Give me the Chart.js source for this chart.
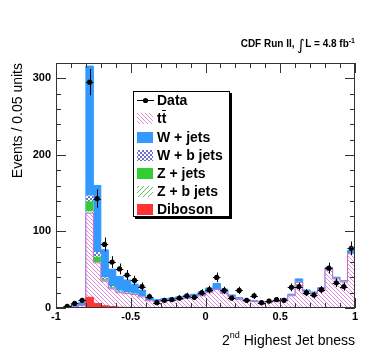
<!DOCTYPE html>
<html>
<head>
<meta charset="utf-8">
<script src="https://cdn.jsdelivr.net/npm/chart.js@4.4.0/dist/chart.umd.min.js"></script>
<style>
  html, body { margin: 0; padding: 0; background: #fff; }
  #wrap { width: 374px; height: 362px; }
</style>
</head>
<body>
<div id="wrap"><canvas id="bness"></canvas></div>
<script>
// bin edges of the 2nd highest jet bness histogram (0.05 wide)
var binEdges = [-1, -0.95, -0.9, -0.85, -0.8, -0.75, -0.7, -0.65, -0.6, -0.55,
  -0.5, -0.45, -0.4, -0.35, -0.3, -0.25, -0.2, -0.15, -0.1, -0.05,
  0, 0.05, 0.1, 0.15, 0.2, 0.25, 0.3, 0.35, 0.4, 0.45,
  0.5, 0.55, 0.6, 0.65, 0.7, 0.75, 0.8, 0.85, 0.9, 0.95, 1];

// stacked backgrounds, bottom to top
var diboson = [0, 0, 0, 0.5, 14, 6, 3, 2, 1, 0.8, 0.6, 0.4,
  0, 0, 0, 0, 0, 0, 0, 0, 0, 0, 0, 0, 0, 0, 0, 0, 0, 0, 0, 0, 0, 0, 0, 0, 0, 0, 0, 0];
var ttbar = [0, 0.5, 1.5, 2.5, 110, 53, 32, 23, 19, 18, 17, 14,
  9.5, 8, 9, 9.5, 11, 12.5, 14, 16, 20, 24, 19, 14.5, 11.3, 9, 8.5, 7.4, 7.4, 8.5,
  10, 16, 33.5, 21, 19, 24, 51, 38, 34, 71];
var zbJets = [0, 0, 0, 0, 2, 1, 0.5, 0.5, 0.5, 0.3, 0.3, 0.3,
  0.2, 0.2, 0.2, 0.2, 0.2, 0.2, 0.2, 0.2, 0.2, 0.2, 0.2, 0.2, 0.2, 0.2, 0.2, 0.2, 0.2, 0.2,
  0.2, 0.2, 0.2, 0.2, 0.2, 0.2, 0.2, 0.2, 0.2, 0.2];
var zJets = [0, 0, 0, 0, 13.5, 7, 2, 1.5, 1, 0.8, 0.6, 0.5,
  0.3, 0.3, 0.3, 0.3, 0.3, 0.3, 0.3, 0.3, 0.3, 0.3, 0.3, 0.3, 0.3, 0.3, 0.3, 0.3, 0.3, 0.3,
  0.3, 0.3, 0.3, 0.3, 0.3, 0.3, 0.3, 0.3, 0.3, 0.3];
var wbJets = [0, 0, 0, 0.2, 7.5, 6, 2.5, 1.7, 1, 0.7, 0.6, 0.5,
  0.4, 0.4, 0.4, 0.4, 0.4, 0.4, 0.4, 0.4, 0.4, 0.4, 0.4, 0.4, 0.4, 0.4, 0.4, 0.4, 0.4, 0.4,
  0.4, 0.4, 0.4, 0.4, 0.4, 0.4, 0.4, 0.4, 0.4, 0.4];
var wJets = [0.5, 1, 2.5, 3.8, 169, 87, 36, 22, 18.5, 16, 12, 7.7,
  3.6, 2.1, 2.1, 2.6, 2.6, 3.1, 3.1, 4.1, 5.1, 7.1, 4.6, 1.6, 1.3, 1.1, 0.2, 0, 0.2, 0.4,
  1.1, 1.1, 3.6, 1.6, 1.1, 1.6, 0.9, 1.3, 0.8, 3.1];

// data points and their errors
var dataCounts = [null, 2, 6, 10, 295, 143, 83, 60, 51, 43, 36, 28,
  15, 7, 10, 11, 13, 16, 14, 20, 24, 40, 23, 13, 23, 10, 16, 7, 9, 11,
  10, 27, 28, 20, 17, 24, 52, 33, 28, 78];
var dataErrors = [0, 1.4, 2.4, 3.2, 17.2, 12, 9.1, 7.7, 7.1, 6.6, 6, 5.3,
  3.9, 2.6, 3.2, 3.3, 3.6, 4, 3.7, 4.5, 4.9, 6.3, 4.8, 3.6, 4.8, 3.2, 4, 2.6, 3, 3.3,
  3.2, 5.2, 5.3, 4.5, 4.1, 4.9, 7.2, 5.7, 5.3, 8.8];

var xTickLabels = [-1, -0.5, 0, 0.5, 1];
var yTickLabels = [0, 100, 200, 300];
var legendNames = ["Data", "tt", "W + jets", "W + b jets", "Z + jets", "Z + b jets", "Diboson"];

// ---- fill patterns ----
function hatchPattern(color, slash, size) {
  var c = document.createElement("canvas");
  c.width = size; c.height = size;
  var g = c.getContext("2d");
  g.fillStyle = "#fff";
  g.fillRect(0, 0, size, size);
  g.strokeStyle = color;
  g.lineWidth = 1;
  g.beginPath();
  if (slash) {
    g.moveTo(-1, size + 1); g.lineTo(size + 1, -1);
    g.moveTo(-1, 1); g.lineTo(1, -1);
    g.moveTo(size - 1, size + 1); g.lineTo(size + 1, size - 1);
  } else {
    g.moveTo(-1, -1); g.lineTo(size + 1, size + 1);
    g.moveTo(-1, size - 1); g.lineTo(1, size + 1);
    g.moveTo(size - 1, -1); g.lineTo(size + 1, 1);
  }
  g.stroke();
  return g.createPattern(c, "repeat");
}
function dotPattern(color) {
  var c = document.createElement("canvas");
  c.width = 4; c.height = 4;
  var g = c.getContext("2d");
  g.fillStyle = "#fff";
  g.fillRect(0, 0, 4, 4);
  g.fillStyle = color;
  g.fillRect(0, 0, 2, 2);
  g.fillRect(2, 2, 2, 2);
  return g.createPattern(c, "repeat");
}

var ttFill = hatchPattern("#dd90dd", false, 4);
var wbFill = dotPattern("#6f6fcc");
var zbFill = hatchPattern("#66bb66", true, 5);

// step points at the left edge of each bin, plus the closing edge
function stepPoints(vals) {
  var pts = [];
  for (var i = 0; i < vals.length; i++) pts.push({ x: binEdges[i], y: vals[i] });
  pts.push({ x: binEdges[vals.length], y: vals[vals.length - 1] });
  return pts;
}
function dataPoints() {
  var pts = [];
  for (var i = 0; i < dataCounts.length; i++) {
    if (dataCounts[i] === null) continue;
    pts.push({ x: (binEdges[i] + binEdges[i + 1]) / 2, y: dataCounts[i] });
  }
  return pts;
}

function mcSet(label, vals, fillStyle, border, fill) {
  return {
    label: label,
    data: stepPoints(vals),
    stepped: "before",
    backgroundColor: fillStyle,
    borderColor: border,
    borderWidth: border ? 1 : 0,
    pointRadius: 0,
    fill: fill
  };
}

// error bars, frame with inward ticks, legend and titles
var decorPlugin = {
  id: "decor",
  afterDatasetsDraw: function (chart) {
    var ctx = chart.ctx, xs = chart.scales.x, ys = chart.scales.y;
    ctx.save();
    ctx.strokeStyle = "#000";
    ctx.lineWidth = 1;
    for (var i = 0; i < dataCounts.length; i++) {
      if (dataCounts[i] === null) continue;
      var cx = xs.getPixelForValue((binEdges[i] + binEdges[i + 1]) / 2);
      var x0 = xs.getPixelForValue(binEdges[i]);
      var x1 = xs.getPixelForValue(binEdges[i + 1]);
      var yv = ys.getPixelForValue(dataCounts[i]);
      var yLo = ys.getPixelForValue(dataCounts[i] - dataErrors[i]);
      var yHi = ys.getPixelForValue(dataCounts[i] + dataErrors[i]);
      ctx.beginPath();
      ctx.moveTo(Math.round(cx) + 0.5, yLo);
      ctx.lineTo(Math.round(cx) + 0.5, yHi);
      ctx.moveTo(x0, Math.round(yv) + 0.5);
      ctx.lineTo(x1, Math.round(yv) + 0.5);
      ctx.stroke();
    }
    ctx.restore();
  },
  afterDraw: function (chart) {
    var ctx = chart.ctx, a = chart.chartArea;
    var xs = chart.scales.x, ys = chart.scales.y;
    ctx.save();
    // frame
    ctx.strokeStyle = "#333";
    ctx.lineWidth = 1;
    ctx.strokeRect(a.left + 0.5, a.top + 0.5, a.right - a.left - 1, a.bottom - a.top - 1);
    ctx.beginPath();
    var v, p, len;
    for (var k = 0; k <= 20; k++) {
      v = -1 + k * 0.1;
      p = Math.round(xs.getPixelForValue(v)) + 0.5;
      len = (k % 5 === 0) ? 10 : 5;
      ctx.moveTo(p, a.bottom); ctx.lineTo(p, a.bottom - len);
      ctx.moveTo(p, a.top); ctx.lineTo(p, a.top + len);
    }
    for (var m = 0; m <= 16; m++) {
      v = m * 20;
      p = Math.round(ys.getPixelForValue(v)) + 0.5;
      len = (v % 100 === 0) ? 10 : 5;
      ctx.moveTo(a.left, p); ctx.lineTo(a.left + len, p);
      ctx.moveTo(a.right, p); ctx.lineTo(a.right - len, p);
    }
    ctx.stroke();

    // legend box with shadow
    var bx = 133, by = 91, bw = 97, bh = 126;
    ctx.fillStyle = "#000";
    ctx.fillRect(bx + 2, by + bh, bw, 2);
    ctx.fillRect(bx + bw, by + 2, 2, bh);
    ctx.fillStyle = "#fff";
    ctx.fillRect(bx, by, bw, bh);
    ctx.strokeStyle = "#000";
    ctx.strokeRect(bx + 0.5, by + 0.5, bw - 1, bh - 1);

    var rowY = [100, 118.3, 136.7, 155, 173.3, 191, 209.3];
    var swatches = [null, ttFill, "#3399ff", wbFill, "#33cc33", zbFill, "#ff3333"];
    ctx.font = "bold 14px 'Liberation Sans', Arial, sans-serif";
    ctx.textBaseline = "middle";
    ctx.textAlign = "left";
    for (var r = 0; r < legendNames.length; r++) {
      var ry = rowY[r];
      if (r === 0) {
        ctx.beginPath();
        ctx.moveTo(137, Math.round(ry) + 0.5);
        ctx.lineTo(154, Math.round(ry) + 0.5);
        ctx.stroke();
        ctx.fillStyle = "#000";
        ctx.beginPath();
        ctx.arc(145.5, Math.round(ry) + 0.5, 2.6, 0, Math.PI * 2);
        ctx.fill();
      } else {
        ctx.fillStyle = swatches[r];
        ctx.fillRect(137, Math.round(ry) - 5, 16, 11);
      }
      ctx.fillStyle = "#000";
      ctx.fillText(legendNames[r], 157, ry + 1);
      if (r === 1) {
        var tw = ctx.measureText("t").width;
        ctx.beginPath();
        ctx.moveTo(157 + tw + 0.5, Math.round(ry) - 7.5);
        ctx.lineTo(157 + 2 * tw - 0.5, Math.round(ry) - 7.5);
        ctx.stroke();
      }
    }

    // top-right luminosity label
    var f1 = "bold 10px 'Liberation Sans', Arial, sans-serif";
    var fInt = "15px 'DejaVu Sans', sans-serif";
    var fSup = "bold 7px 'Liberation Sans', Arial, sans-serif";
    var parts = [
      { t: "CDF Run II, ", f: f1, y: 47 },
      { t: "\u222B", f: fInt, y: 50 },
      { t: "L = 4.8 fb", f: f1, y: 47 },
      { t: "-1", f: fSup, y: 43 }
    ];
    var total = 0, j;
    for (j = 0; j < parts.length; j++) { ctx.font = parts[j].f; parts[j].w = ctx.measureText(parts[j].t).width; total += parts[j].w; }
    var tx = 355 - total;
    ctx.textBaseline = "alphabetic";
    for (j = 0; j < parts.length; j++) {
      ctx.font = parts[j].f;
      ctx.fillText(parts[j].t, tx, parts[j].y);
      tx += parts[j].w;
    }

    // x axis title
    var f2 = "14px 'Liberation Sans', Arial, sans-serif";
    var f2s = "9px 'Liberation Sans', Arial, sans-serif";
    var xt = [
      { t: "2", f: f2, y: 345 },
      { t: "nd", f: f2s, y: 338 },
      { t: " Highest Jet bness", f: f2, y: 345 }
    ];
    total = 0;
    for (j = 0; j < xt.length; j++) { ctx.font = xt[j].f; xt[j].w = ctx.measureText(xt[j].t).width; total += xt[j].w; }
    tx = 355 - total;
    for (j = 0; j < xt.length; j++) {
      ctx.font = xt[j].f;
      ctx.fillText(xt[j].t, tx, xt[j].y);
      tx += xt[j].w;
    }

    // y axis title
    ctx.translate(18, 63);
    ctx.rotate(-Math.PI / 2);
    ctx.font = f2;
    ctx.textAlign = "right";
    ctx.textBaseline = "middle";
    ctx.fillText("Events / 0.05 units", 0, 0);
    ctx.restore();
  }
};

var ctx = document.getElementById("bness").getContext("2d");
var bnessChart = new Chart(ctx, {
  type: "line",
  data: {
    datasets: [
      {
        label: "Data",
        data: dataPoints(),
        stack: "data",
        showLine: false,
        pointRadius: 2.6,
        pointBackgroundColor: "#000",
        pointBorderColor: "#000",
        pointBorderWidth: 0,
        fill: false
      },
      mcSet("Diboson", diboson, "#ff3333", "#ff3333", "origin"),
      mcSet("tt", ttbar, ttFill, "#c868c8", "-1"),
      mcSet("Z + b jets", zbJets, zbFill, null, "-1"),
      mcSet("Z + jets", zJets, "#33cc33", null, "-1"),
      mcSet("W + b jets", wbJets, wbFill, null, "-1"),
      mcSet("W + jets", wJets, "#3399ff", "#3399ff", "-1")
    ]
  },
  options: {
    responsive: true,
    maintainAspectRatio: false,
    animation: false,
    events: [],
    layout: { padding: { left: 0, top: 63, right: 19, bottom: 0 } },
    plugins: {
      legend: { display: false },
      tooltip: { enabled: false }
    },
    scales: {
      x: {
        type: "linear",
        min: -1,
        max: 1,
        grid: { display: false, drawTicks: false, tickLength: 0 },
        border: { display: false },
        ticks: {
          stepSize: 0.5,
          padding: 2,
          color: "#000",
          font: { family: "'Liberation Sans', Arial, sans-serif", size: 11, weight: "bold" },
          maxRotation: 0,
          callback: function (v) { return xTickLabels.indexOf(v) >= 0 ? String(v) : ""; }
        },
        afterFit: function (s) { s.height = 54; }
      },
      y: {
        stacked: true,
        min: 0,
        max: 320,
        grid: { display: false, drawTicks: false, tickLength: 0 },
        border: { display: false },
        ticks: {
          stepSize: 100,
          padding: 5,
          color: "#000",
          font: { family: "'Liberation Sans', Arial, sans-serif", size: 11, weight: "bold" },
          callback: function (v) { return yTickLabels.indexOf(v) >= 0 ? String(v) : ""; }
        },
        afterFit: function (s) { s.width = 56; }
      }
    }
  },
  plugins: [decorPlugin]
});
</script>
</body>
</html>
